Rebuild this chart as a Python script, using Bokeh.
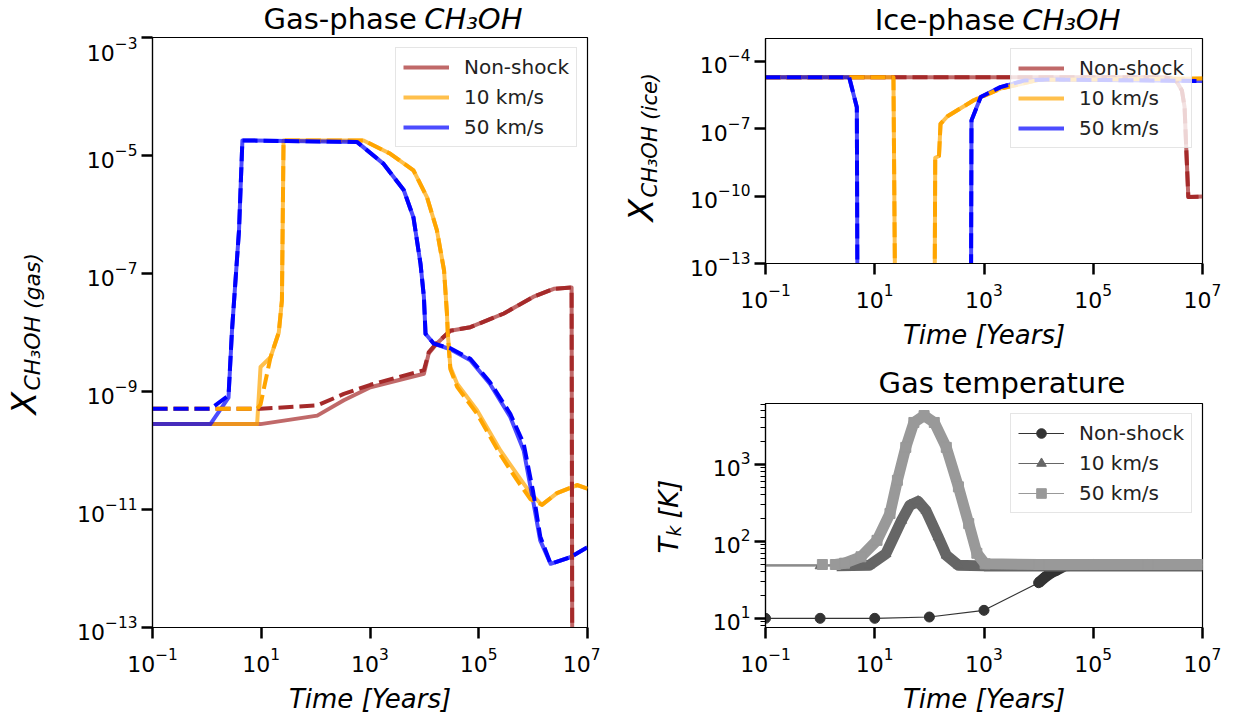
import math
from bokeh.plotting import figure
from bokeh.models import Range1d, FixedTicker, Label, Legend, LegendItem
from bokeh.layouts import row, column
from bokeh.embed import file_html
from bokeh.resources import INLINE

FONT = "DejaVu Sans"
BROWN = "#a52a2a"
ORANGE = "#ffa500"
BLUE = "#0000ff"
LABELS = ["Non-shock", "10 km/s", "50 km/s"]

X_TICKS = [1e-1, 1e1, 1e3, 1e5, 1e7]
GAS_Y_TICKS = [1e-13, 1e-11, 1e-9, 1e-7, 1e-5, 1e-3]
ICE_Y_TICKS = [1e-13, 1e-10, 1e-7, 1e-4]
T_Y_TICKS = [10, 100, 1000]
T_Y_MINOR = [8, 9, 20, 30, 40, 50, 60, 70, 80, 90, 200, 300, 400, 500, 600, 700, 800, 900,
             2000, 3000, 4000, 5000, 6000]

# ---------------- Gas-phase CH3OH ----------------
gas_ns_t = [0.1, 9.7, 107, 330, 1020, 9800, 12000, 17000, 30000, 70000, 2.9e5, 1.0e6, 2.4e6, 5.1e6, 5.3e6]
gas_ns_solid = [2.8e-10, 2.8e-10, 3.9e-10, 7.1e-10, 1.18e-9, 2.0e-9, 4.4e-9, 6.5e-9, 1.07e-8, 1.23e-8,
                2.1e-8, 4.0e-8, 5.5e-8, 5.8e-8, 1e-16]
gas_ns_dash = [5.1e-10, 5.1e-10, 5.8e-10, 9.1e-10, 1.3e-9, 2.3e-9, 4.6e-9, 6.7e-9, 1.07e-8, 1.23e-8,
               2.1e-8, 4.0e-8, 5.5e-8, 5.8e-8, 1e-16]

gas_10_t = [0.1, 8.4, 9.7, 14.8, 21, 24, 25.7, 760, 2370, 6300, 11200, 17000, 23000, 26000, 27000,
            30000, 40000, 93000, 2.5e5, 5e5, 8.9e5, 1.45e6, 2.75e6, 6.5e6, 1e7]
gas_10_solid = [2.8e-10, 2.8e-10, 2.6e-9, 3.8e-9, 1e-8, 3.5e-8, 1.8e-5, 1.8e-5, 1.07e-5, 5.6e-6, 1.95e-6,
                5.4e-7, 1.13e-7, 2.1e-8, 9.5e-9, 2.6e-9, 1.35e-9, 4.8e-10, 1.0e-10, 4.0e-11, 1.9e-11,
                1.2e-11, 1.9e-11, 2.6e-11, 2.25e-11]
gas_10_dash = [5.1e-10, 5.1e-10, 6.0e-10, 3.8e-9, 1e-8, 3.5e-8, 1.8e-5, 1.8e-5, 1.07e-5, 5.6e-6, 1.95e-6,
               5.4e-7, 1.13e-7, 2.1e-8, 9.5e-9, 2.4e-9, 1.2e-9, 4.2e-10, 8.5e-11, 3.2e-11, 1.5e-11,
               1.2e-11, 1.9e-11, 2.6e-11, 2.25e-11]

gas_50_t = [0.1, 1.16, 2.5, 2.9, 3.9, 4.5, 575, 1780, 4170, 6300, 8500, 9800, 10500, 14800, 30000,
            70000, 1.6e5, 3.8e5, 6.7e5, 1.0e6, 1.35e6, 2.1e6, 4.8e6, 1e7]
gas_50_solid = [2.8e-10, 2.8e-10, 7.9e-10, 1.1e-8, 5.4e-7, 1.8e-5, 1.7e-5, 7.2e-6, 2.6e-6, 8.9e-7,
                1.45e-7, 4.0e-8, 9.5e-9, 6.5e-9, 5.2e-9, 3.4e-9, 1.35e-9, 3.7e-10, 1.0e-10, 1.4e-11,
                3.0e-12, 1.2e-12, 1.55e-12, 2.3e-12]
gas_50_dash = [5.1e-10, 5.1e-10, 8.5e-10, 1.1e-8, 5.4e-7, 1.8e-5, 1.7e-5, 7.2e-6, 2.6e-6, 8.9e-7,
               1.45e-7, 4.0e-8, 9.5e-9, 6.5e-9, 5.4e-9, 3.6e-9, 1.45e-9, 4.2e-10, 1.3e-10, 2.0e-11,
               3.5e-12, 1.2e-12, 1.55e-12, 2.3e-12]

# ---------------- Ice-phase CH3OH ----------------
ice_ns_t = [0.1, 2.0e6, 3.2e6, 4.2e6, 4.7e6, 5.0e6, 5.5e6, 1e7]
ice_ns = [1.9e-5, 1.9e-5, 1.5e-5, 4.9e-6, 8.9e-7, 2.1e-8, 9e-11, 9.5e-11]

ice_10_t = [0.1, 22, 24.5, 122, 128, 150, 160, 215, 650, 2000, 1e4, 1e7]
ice_10 = [1.9e-5, 1.9e-5, 1e-20, 1e-20, 5e-9, 6e-9, 1.6e-7, 3.5e-7, 1.8e-6, 5.9e-6, 1.45e-5, 1.65e-5]

ice_50_t = [0.1, 3.4, 4.7, 4.9, 570, 590, 870, 2000, 5400, 1.5e4, 1e7]
ice_50 = [1.9e-5, 1.9e-5, 8.9e-7, 1e-20, 1e-20, 2.3e-7, 2.5e-6, 6.9e-6, 1.35e-5, 1.5e-5, 1.3e-5]

# ---------------- Gas temperature ----------------
T_ns_t = [0.1, 1, 10, 100, 1000, 1e4, 1.3e4, 1.7e4, 2.1e4, 3e4, 1e5, 1e6, 1e7]
T_ns = [10, 10, 10, 10.4, 12.7, 29, 34, 39, 42, 48, 50, 50, 50]
T_10_t = [0.1, 1, 2, 8, 16, 31, 44, 62, 87, 145, 204, 340, 1000, 1e4, 1e5, 1e6, 1e7]
T_10 = [48, 48, 48, 49, 69, 187, 295, 330, 250, 114, 66, 49, 48, 48, 48, 48, 48]
T_50_t = [0.1, 1.1, 1.9, 2.8, 5.6, 11, 19, 26, 37, 52, 80, 123, 204, 340, 525, 740, 1050, 1e4, 1e5, 1e6, 1e7]
T_50 = [50, 50, 50, 52, 63, 103, 230, 620, 1660, 3500, 4300, 3500, 1660, 510, 170, 70, 51, 50, 50, 50, 50]


def make_fig(width, height, yr, bl, br, bt, bb, yticks, yminor=None):
    p = figure(width=width, height=height, x_axis_type="log", y_axis_type="log",
               x_range=Range1d(0.1, 1e7), y_range=Range1d(*yr), title=None,
               output_backend="svg", toolbar_location=None, tools="",
               min_border_left=bl, min_border_right=br, min_border_top=bt, min_border_bottom=bb)
    p.grid.visible = False
    p.background_fill_color = "white"
    p.border_fill_color = "white"
    p.outline_line_color = "black"
    p.outline_line_width = 1.2
    p.outline_line_alpha = 1
    p.xaxis.ticker = FixedTicker(ticks=X_TICKS, minor_ticks=[])
    p.yaxis.ticker = FixedTicker(ticks=yticks, minor_ticks=yminor or [])
    for ax in (p.xaxis[0], p.yaxis[0]):
        ax.major_label_text_font = FONT
        ax.major_label_text_font_size = "22px"
        ax.major_label_text_color = "black"
        ax.major_tick_out = 11
        ax.major_tick_in = 0
        ax.major_tick_line_width = 2.5
        ax.major_tick_line_color = "black"
        ax.minor_tick_out = 5
        ax.minor_tick_in = 0
        ax.minor_tick_line_width = 1
        ax.minor_tick_line_color = "black"
        ax.axis_line_width = 1.2
        ax.axis_line_color = "black"
    p.xaxis.major_label_standoff = 9
    p.yaxis.major_label_standoff = 4
    p.xaxis.axis_label = "Time [Years]"
    p.xaxis.axis_label_text_font = FONT
    p.xaxis.axis_label_text_font_style = "italic"
    p.xaxis.axis_label_text_font_size = "26px"
    p.xaxis.axis_label_text_color = "black"
    p.xaxis.axis_label_standoff = 9
    return p


def text_fig(x0, x1, y0, y1):
    """Blank helper canvas whose data coordinates equal page pixel coordinates."""
    f = figure(width=x1 - x0, height=y1 - y0, x_range=Range1d(x0, x1), y_range=Range1d(y1, y0),
               title=None, x_axis_location=None, y_axis_location=None,
               output_backend="svg", toolbar_location=None, tools="", min_border=0)
    f.grid.visible = False
    f.outline_line_color = None
    f.background_fill_color = "white"
    f.border_fill_color = "white"
    return f


def lab(f, text, x, y, size, style="normal", angle=0.0, align="left"):
    f.add_layout(Label(x=x, y=y, text=text, angle=angle,
                       text_font=FONT, text_font_size=f"{size}px", text_font_style=style,
                       text_align=align, text_baseline="middle", text_color="black"))


def style_legend(lg):
    lg.location = "top_right"
    lg.margin = 10
    lg.padding = 7
    lg.spacing = 6
    lg.glyph_height = 24
    lg.label_height = 24
    lg.glyph_width = 46
    lg.label_standoff = 15
    lg.label_text_font = FONT
    lg.label_text_font_size = "20px"
    lg.label_text_color = "#222222"
    lg.border_line_color = "#cccccc"
    lg.border_line_width = 1
    lg.background_fill_color = "white"
    lg.background_fill_alpha = 0.8


def abundance_lines(p, series):
    solids = []
    for t, vs, vd, c in series:
        r = p.line(t, vs, line_color=c, line_alpha=0.7, line_width=4, line_join="round")
        solids.append(r)
    for t, vs, vd, c in series:
        p.line(t, vd, line_color=c, line_width=4, line_dash="15 6", line_join="round")
    return solids


V = math.pi / 2

# ---------------- left block ----------------
ylabL = text_fig(0, 70, 0, 719)
lab(ylabL, "X", 24, 414, 33, style="italic", angle=V)
lab(ylabL, "CH\u2083OH (gas)", 32, 390, 22, style="italic", angle=V)

titleL = text_fig(70, 600, 0, 36)
lab(titleL, "Gas-phase", 392, 18, 29, align="right")
lab(titleL, "CH\u2083OH", 401, 18, 29, style="italic")

pL = make_fig(530, 683, (1e-13, 1e-3), 82, 13, 1, 92, GAS_Y_TICKS)
rL = abundance_lines(pL, [(gas_ns_t, gas_ns_solid, gas_ns_dash, BROWN),
                          (gas_10_t, gas_10_solid, gas_10_dash, ORANGE),
                          (gas_50_t, gas_50_solid, gas_50_dash, BLUE)])
lgL = Legend(items=[LegendItem(label=l, renderers=[r]) for l, r in zip(LABELS, rL)])
style_legend(lgL)
pL.add_layout(lgL)

# ---------------- right block ----------------
ylabR = text_fig(600, 686, 0, 719)
lab(ylabR, "X", 641, 221, 33, style="italic", angle=V)
lab(ylabR, "CH\u2083OH (ice)", 649, 197, 21, style="italic", angle=V)
lab(ylabR, "T", 668, 553, 27, style="italic", angle=V)
lab(ylabR, "k", 673, 536, 19, style="italic", angle=V)
lab(ylabR, "[K]", 668, 518, 27, style="italic", angle=V)

titleT = text_fig(686, 1236, 0, 37)
lab(titleT, "Ice-phase", 1000, 19, 29, align="right")
lab(titleT, "CH\u2083OH", 1009, 19, 29, style="italic")

pT = make_fig(550, 323, (1e-13, 1e-3), 79, 34, 1, 97, ICE_Y_TICKS)
rT = abundance_lines(pT, [(ice_ns_t, ice_ns, ice_ns, BROWN),
                          (ice_10_t, ice_10, ice_10, ORANGE),
                          (ice_50_t, ice_50, ice_50, BLUE)])
lgT = Legend(items=[LegendItem(label=l, renderers=[r]) for l, r in zip(LABELS, rT)])
style_legend(lgT)
pT.add_layout(lgT)

titleB = text_fig(686, 1236, 360, 402)
lab(titleB, "Gas temperature", 983.5, 382, 29, align="center")

pB = make_fig(550, 317, (7.6, 6170), 79, 34, 1, 92, T_Y_TICKS, T_Y_MINOR)
temp_series = [(T_ns_t, T_ns, "#333333", "circle", 0, 5),
               (T_10_t, T_10, "#666666", "triangle", 1, 2),
               (T_50_t, T_50, "#999999", "square", 1, 2)]
itemsB = []
for (t, v, c, m, m0, d0), l in zip(temp_series, LABELS):
    rl = pB.line(t, v, line_color=c, line_width=1.2)
    rs = pB.scatter(t[m0:d0], v[m0:d0], marker=m, size=10, fill_color=c, line_color=c)
    pB.line(t[d0:], v[d0:], line_color=c, line_width=11, line_join="round")
    pB.scatter(t[d0:], v[d0:], marker=m, size=10, fill_color=c, line_color=c)
    itemsB.append(LegendItem(label=l, renderers=[rl, rs]))
lgB = Legend(items=itemsB)
style_legend(lgB)
pB.add_layout(lgB)

layout = row(row(ylabL, column(titleL, pL)),
             row(ylabR, column(titleT, pT, titleB, pB)))
open("out.html", "w").write(file_html(layout, INLINE))
